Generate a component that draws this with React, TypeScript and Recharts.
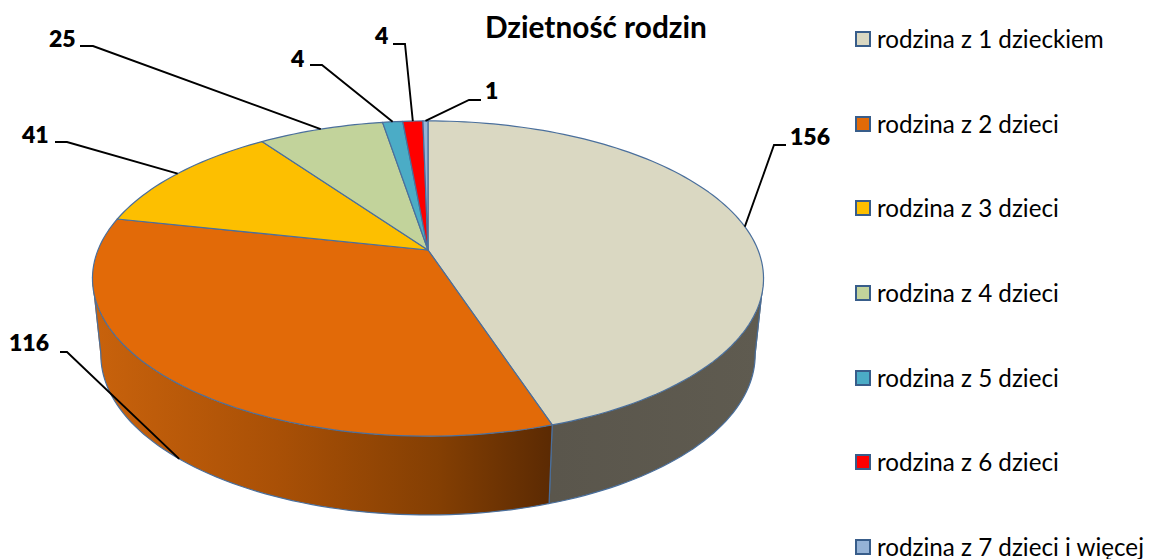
import { PieChart, Pie, Legend } from 'recharts';

const categories = [
  'rodzina z 1 dzieckiem',
  'rodzina z 2 dzieci',
  'rodzina z 3 dzieci',
  'rodzina z 4 dzieci',
  'rodzina z 5 dzieci',
  'rodzina z 6 dzieci',
  'rodzina z 7 dzieci i więcej',
];
const values = [156, 116, 41, 25, 4, 4, 1];
const topColors = ['#DAD8C2', '#E26A08', '#FDBF00', '#C2D39B', '#4BACC6', '#FF0000', '#95B3D7'];
const wallColors = ['url(#wallGrey)', 'url(#wallOrange)', '#A67C00', '#7F8C65', '#317081', '#A60000', '#61748C'];

// leader line elbows and label text spots, in chart pixels
const leaderElbows = [[774, 145], [67, 352], [67, 142], [93, 46], [322, 65], [405, 44], [469, 100]];
const leaderEnds = [786, 60, 55, 80, 310, 393, 481];
const labelSpots = [[790, 145], [9, 351], [22, 143], [49, 47], [291, 67], [375, 44], [485, 99]];

const topData = categories.map((name, i) => ({ name, value: values[i], fill: topColors[i] }));
const wallData = categories.map((name, i) => ({ name, value: values[i], fill: wallColors[i] }));

const LINE = '#4A6F9C';
const RAD = Math.PI / 180;
const PERSPECTIVE = 0.181;

// Excel's 3D pie: circle angle (clockwise from top) to the tilted top face
function projectTop(cx: number, cy: number, r: number, theta: number) {
  const s = Math.sin(theta * RAD);
  const c = Math.cos(theta * RAD);
  const w = 1 + PERSPECTIVE * c;
  return [cx + (r * s) / w, cy - (0.462 * r * c) / w];
}

// same thing for the bottom rim, a bit lower and narrower
function projectBottom(cx: number, cy: number, r: number, theta: number) {
  const s = Math.sin(theta * RAD);
  const c = Math.cos(theta * RAD);
  const w = 1 + PERSPECTIVE * c;
  return [cx + (0.975 * r * s) / w, cy + 76 - (0.469 * r * c) / w];
}

function thetaSteps(from: number, to: number) {
  const n = Math.max(2, Math.ceil((to - from) / 1.5));
  return Array.from({ length: n + 1 }, (_, i) => from + ((to - from) * i) / n);
}

function TopSector(props: any) {
  const { cx, cy, outerRadius, startAngle, endAngle, fill } = props;
  const pts = thetaSteps(90 - startAngle, 90 - endAngle).map(t => projectTop(cx, cy, outerRadius, t));
  const d = `M${cx},${cy}` + pts.map(p => `L${p[0].toFixed(2)},${p[1].toFixed(2)}`).join('') + 'Z';
  return <path d={d} fill={fill} stroke={LINE} strokeWidth={1.2} strokeLinejoin="round" />;
}

function WallSector(props: any) {
  const { cx, cy, outerRadius, startAngle, endAngle, fill } = props;
  // only the front of the rim can be seen
  const from = Math.max(90 - startAngle, 100);
  const to = Math.min(90 - endAngle, 260);
  if (to <= from) return <g />;
  const steps = thetaSteps(from, to);
  const top = steps.map(t => projectTop(cx, cy, outerRadius, t));
  const bottom = steps.map(t => projectBottom(cx, cy, outerRadius, t));
  let body = '';
  for (let i = 0; i < steps.length - 1; i++) {
    let q = [top[i], top[i + 1], bottom[i + 1], bottom[i]];
    let area = 0;
    q.forEach((p, j) => {
      const n = q[(j + 1) % 4];
      area += p[0] * n[1] - n[0] * p[1];
    });
    if (area < 0) q = q.reverse();
    body += 'M' + q.map(p => `${p[0].toFixed(2)},${p[1].toFixed(2)}`).join('L') + 'Z';
  }
  const last = steps.length - 1;
  const outline =
    `M${top[0].join(',')}L` +
    bottom.map(p => p.join(',')).join('L') +
    `L${top[last].join(',')}`;
  return (
    <g>
      <path d={body} fill={fill} fillRule="nonzero" />
      <path d={outline} fill="none" stroke={LINE} strokeWidth={1.2} />
    </g>
  );
}

function renderLabel(props: any) {
  const { cx, cy, outerRadius, midAngle, index, value } = props;
  const theta = 90 - midAngle;
  // the 116 leader lands on the lower rim, all the others on the top edge
  const start = index === 1 ? projectBottom(cx, cy, outerRadius, theta) : projectTop(cx, cy, outerRadius, theta);
  const elbow = leaderElbows[index];
  const spot = labelSpots[index];
  return (
    <g key={index}>
      <polyline
        points={`${start.join(',')} ${elbow.join(',')} ${leaderEnds[index]},${elbow[1]}`}
        fill="none"
        stroke="#000"
        strokeWidth={1.9}
      />
      <text x={spot[0]} y={spot[1]} fontFamily="Lato" fontWeight={800} fontSize={23} fill="#000">
        {value}
      </text>
    </g>
  );
}

function LegendList({ payload }: any) {
  // the wall pie also reports its slices here, keep the top face only
  const items = (payload || []).filter((item: any) => topColors.includes(item.color));
  return (
    <div style={{ display: 'flex', flexDirection: 'column', gap: 60.67 }}>
      {items.map((item: any) => (
        <div key={item.value} style={{ display: 'flex', alignItems: 'center', height: 24 }}>
          <span
            style={{
              width: 12,
              height: 12,
              border: '2px solid #385D8A',
              background: item.color,
              marginRight: 6,
              flex: 'none',
            }}
          />
          <span style={{ fontFamily: 'Lato', fontSize: 24.2, lineHeight: '24px', color: '#000', whiteSpace: 'nowrap' }}>
            {item.value}
          </span>
        </div>
      ))}
    </div>
  );
}

export default function App() {
  return (
    <div style={{ position: 'fixed', left: 0, top: 0, width: 1151, height: 559, overflow: 'hidden', background: '#fff' }}>
      <PieChart width={1151} height={559} margin={{ top: 0, right: 0, bottom: 0, left: 0 }}>
        <defs>
          <linearGradient id="wallOrange" gradientUnits="userSpaceOnUse" x1="95" y1="0" x2="552" y2="0">
            <stop offset="0%" stopColor="#C8620C" />
            <stop offset="40%" stopColor="#A95006" />
            <stop offset="75%" stopColor="#843F03" />
            <stop offset="100%" stopColor="#5B2A03" />
          </linearGradient>
          <linearGradient id="wallGrey" gradientUnits="userSpaceOnUse" x1="552" y1="0" x2="762" y2="0">
            <stop offset="0%" stopColor="#5A564C" />
            <stop offset="100%" stopColor="#5F5B50" />
          </linearGradient>
        </defs>
        <text x={485} y={38} fontFamily="Lato" fontWeight={700} fontSize={29.8} fill="#000">
          Dzietność rodzin
        </text>
        <Pie
          data={wallData}
          dataKey="value"
          nameKey="name"
          cx={428}
          cy={250}
          outerRadius={330}
          startAngle={90}
          endAngle={-270}
          legendType="none"
          shape={WallSector}
          isAnimationActive={false}
        />
        <Pie
          data={topData}
          dataKey="value"
          nameKey="name"
          cx={428}
          cy={250}
          outerRadius={330}
          startAngle={90}
          endAngle={-270}
          shape={TopSector}
          label={renderLabel}
          labelLine={false}
          isAnimationActive={false}
        />
        <Legend
          layout="vertical"
          align="right"
          verticalAlign="top"
          content={LegendList}
          wrapperStyle={{ left: 855, top: 27, width: 296 }}
        />
      </PieChart>
    </div>
  );
}
